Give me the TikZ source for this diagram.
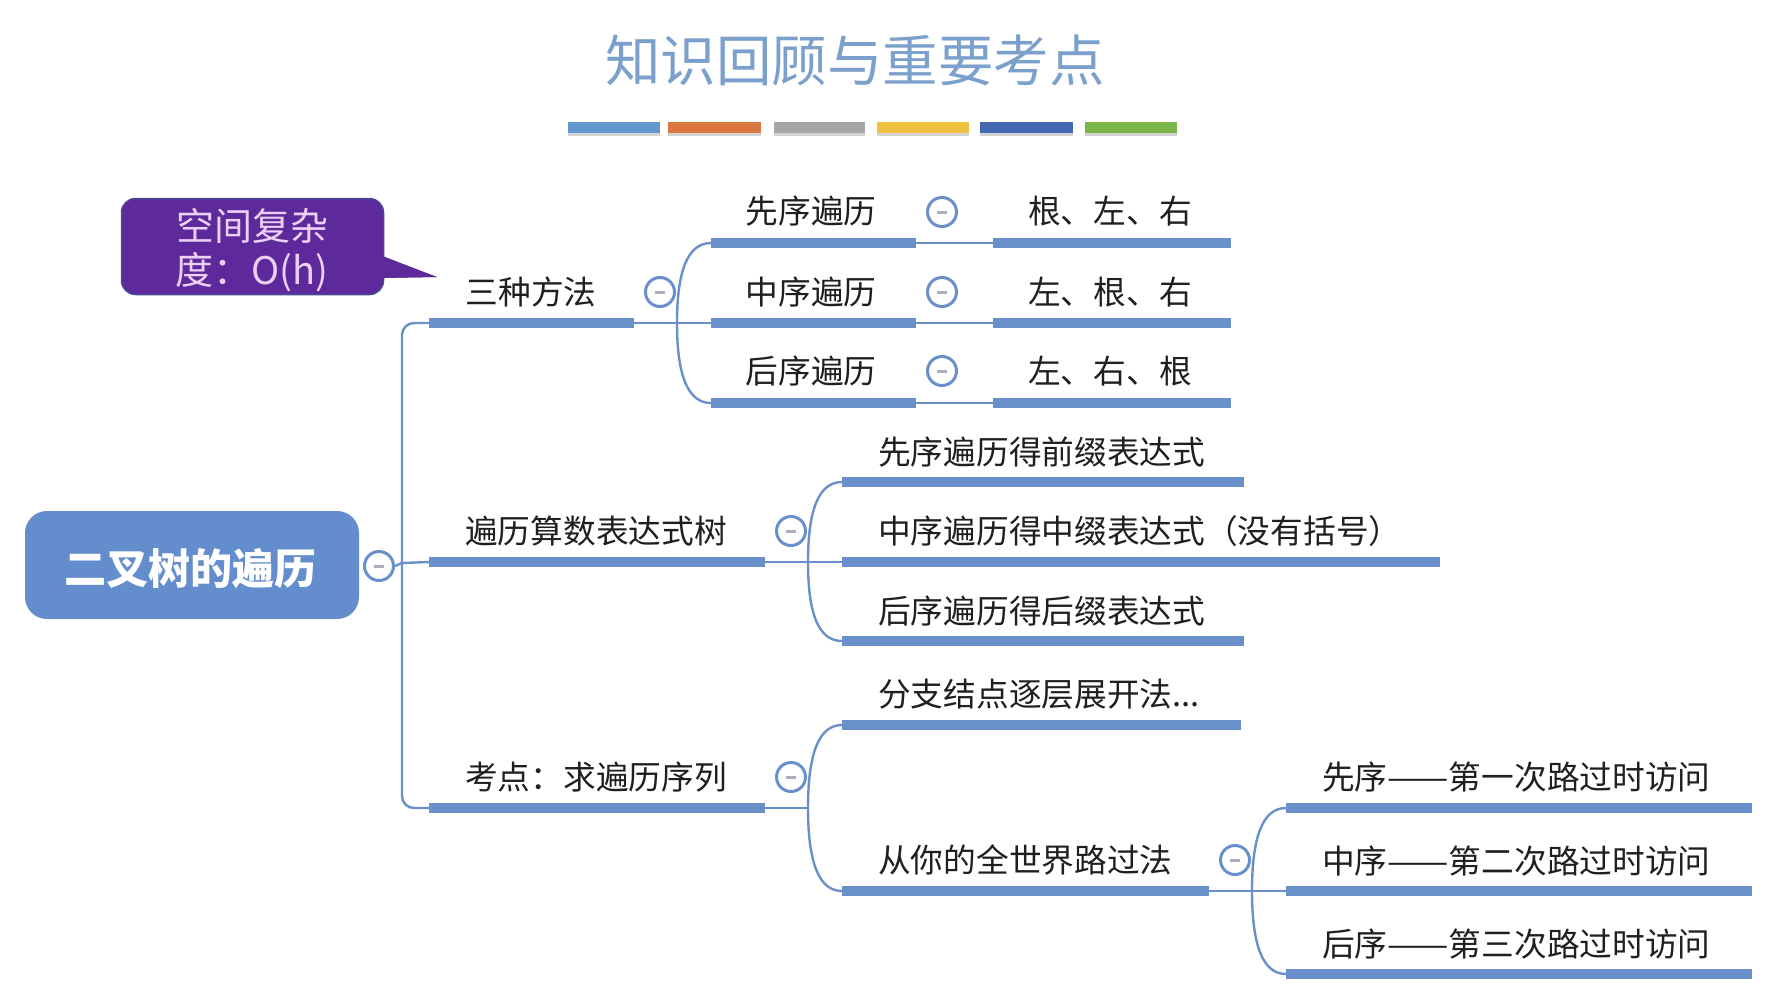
\documentclass[tikz,border=0pt]{standalone}
\usepackage{fontspec}
\setmainfont{Noto Sans CJK SC}
\usetikzlibrary{shadows}
\definecolor{branchblue}{HTML}{6A90CB}
\definecolor{rootblue}{HTML}{648DCE}
\definecolor{titleblue}{HTML}{7BA0CC}
\definecolor{notepurple}{HTML}{5E2A9B}
\definecolor{noteline}{HTML}{4A4A90}
\definecolor{notetext}{HTML}{EBCFF5}
\definecolor{minusgray}{HTML}{A9AFBD}
\definecolor{stripeblue}{HTML}{6296CC}
\definecolor{stripeorange}{HTML}{D9773F}
\definecolor{stripegray}{HTML}{A6A6A6}
\definecolor{stripeyellow}{HTML}{F0C040}
\definecolor{stripenavy}{HTML}{4468B0}
\definecolor{stripegreen}{HTML}{7AB648}
\tikzset{
  topic/.style={text=black!88,inner sep=0pt,font=\fontsize{32.7}{36}\selectfont},
  bar/.style={fill=branchblue,inner sep=0pt,minimum height=10pt,anchor=west},
  link/.style={draw=branchblue,line width=2.4pt},
  toggle/.style={circle,draw=branchblue,line width=3pt,fill=white,minimum size=29pt,inner sep=0pt,
    path picture={\fill[minusgray] ([xshift=-5pt,yshift=-1.5pt]path picture bounding box.center) rectangle ++(10pt,3pt);}},
  stripe/.style={inner sep=0pt,minimum height=11pt,anchor=north west,drop shadow={shadow xshift=0pt,shadow yshift=-2.5pt,opacity=.35}}
}
\begin{document}
\begin{tikzpicture}[x=1pt,y=-1pt]
  \useasboundingbox (0,0) rectangle (1788,1007);
  \node[text=titleblue,inner sep=0pt,font=\fontsize{55.5}{62}\selectfont] (title) at (855,60) {知识回顾与重要考点};
  \node[stripe,fill=stripeblue,minimum width=92pt] (stripea) at (568,122) {};
  \node[stripe,fill=stripeorange,minimum width=93pt] (stripeb) at (668,122) {};
  \node[stripe,fill=stripegray,minimum width=91pt] (stripec) at (774,122) {};
  \node[stripe,fill=stripeyellow,minimum width=92pt] (striped) at (877,122) {};
  \node[stripe,fill=stripenavy,minimum width=93pt] (stripee) at (980,122) {};
  \node[stripe,fill=stripegreen,minimum width=92pt] (stripef) at (1085,122) {};

  \node[fill=rootblue,rounded corners=22pt,minimum width=334pt,minimum height=108pt,inner sep=0pt] (root) at (192,565) {};
  \node[text=white,inner sep=0pt,font=\fontsize{42}{46}\selectfont\bfseries] (rootname) at (190,569) {二叉树的遍历};
  \node[toggle] (roottoggle) at (379,566) {};
  \coordinate (trunk) at (402,563);

  \fill[notepurple] (375,255) -- (437,277) -- (375,278);
  \node[fill=notepurple,draw=noteline,line width=1.5pt,rounded corners=14pt,minimum width=262pt,minimum height=96pt,inner sep=0pt] (note) at (252.5,246.5) {};
  \fill[notepurple] (380,255) -- (437,277) -- (380,278);
  \node[text=notetext,align=center,inner sep=0pt,font=\fontsize{38}{44}\selectfont] (notetext) at (252,250) {空间复杂\\度：O(h)};

  \node[bar,minimum width=205pt] (methods) at (429,323) {};
  \node[topic] (methodsname) at (531,292) {三种方法};
  \node[toggle] (methodstoggle) at (660,292) {};
  \coordinate (methodsfork) at (677,323);
  \node[bar,minimum width=205pt] (pre) at (711,243) {};
  \node[topic] (prename) at (811,211) {先序遍历};
  \node[toggle] (pretoggle) at (942,212) {};
  \node[bar,minimum width=238pt] (preorder) at (993,243) {};
  \node[topic] (preordername) at (1110,211) {根、左、右};
  \node[bar,minimum width=205pt] (in) at (711,323) {};
  \node[topic] (inname) at (811,292) {中序遍历};
  \node[toggle] (intoggle) at (942,292) {};
  \node[bar,minimum width=238pt] (inorder) at (993,323) {};
  \node[topic] (inordername) at (1110,292) {左、根、右};
  \node[bar,minimum width=205pt] (post) at (711,403) {};
  \node[topic] (postname) at (811,371) {后序遍历};
  \node[toggle] (posttoggle) at (942,371) {};
  \node[bar,minimum width=238pt] (postorder) at (993,403) {};
  \node[topic] (postordername) at (1110,371) {左、右、根};

  \node[bar,minimum width=336pt] (expr) at (429,562) {};
  \node[topic] (exprname) at (596,531) {遍历算数表达式树};
  \node[toggle] (exprtoggle) at (791,531) {};
  \coordinate (exprfork) at (808,562);
  \node[bar,minimum width=402pt] (prefix) at (842,482) {};
  \node[topic,anchor=west] (prefixname) at (878,452) {先序遍历得前缀表达式};
  \node[bar,minimum width=598pt] (infix) at (842,562) {};
  \node[topic,anchor=west] (infixname) at (878,531) {中序遍历得中缀表达式（没有括号）};
  \node[bar,minimum width=402pt] (postfix) at (842,641) {};
  \node[topic,anchor=west] (postfixname) at (878,611) {后序遍历得后缀表达式};

  \node[bar,minimum width=336pt] (exam) at (429,808) {};
  \node[topic] (examname) at (596,777) {考点：求遍历序列};
  \node[toggle] (examtoggle) at (791,777) {};
  \coordinate (examfork) at (808,808);
  \node[bar,minimum width=399pt] (expand) at (842,725) {};
  \node[topic,anchor=west] (expandname) at (878,694) {分支结点逐层展开法...};
  \node[bar,minimum width=367pt] (pass) at (842,891) {};
  \node[topic,anchor=west] (passname) at (878,860) {从你的全世界路过法};
  \node[toggle] (passtoggle) at (1235,860) {};
  \coordinate (passfork) at (1252,891);
  \node[bar,minimum width=466pt] (passa) at (1286,808) {};
  \node[topic,anchor=west] (passaname) at (1322,777) {先序\scalebox{1.12}[1]{——}第一次路过时访问};
  \node[bar,minimum width=466pt] (passb) at (1286,891) {};
  \node[topic,anchor=west] (passbname) at (1322,861) {中序\scalebox{1.12}[1]{——}第二次路过时访问};
  \node[bar,minimum width=466pt] (passc) at (1286,974) {};
  \node[topic,anchor=west] (passcname) at (1322,944) {后序\scalebox{1.12}[1]{——}第三次路过时访问};

  \draw[link] (roottoggle.east) -- (trunk) -- (expr.west);
  \draw[link,rounded corners=12pt] (methods.west) -| (trunk) |- (exam.west);
  \draw[link] (methods.east) -- (in.west);
  \draw[link] (methodsfork) .. controls (677,270) and (688,243) .. (pre.west);
  \draw[link] (methodsfork) .. controls (677,376) and (688,403) .. (post.west);
  \draw[link] (pre.east) -- (preorder.west);
  \draw[link] (in.east) -- (inorder.west);
  \draw[link] (post.east) -- (postorder.west);
  \draw[link] (expr.east) -- (infix.west);
  \draw[link] (exprfork) .. controls (808,509) and (819,482) .. (prefix.west);
  \draw[link] (exprfork) .. controls (808,615) and (819,641) .. (postfix.west);
  \draw[link] (exam.east) -- (examfork);
  \draw[link] (examfork) .. controls (808,753) and (819,725) .. (expand.west);
  \draw[link] (examfork) .. controls (808,863) and (819,891) .. (pass.west);
  \draw[link] (pass.east) -- (passb.west);
  \draw[link] (passfork) .. controls (1252,836) and (1263,808) .. (passa.west);
  \draw[link] (passfork) .. controls (1252,946) and (1263,974) .. (passc.west);
\end{tikzpicture}
\end{document}
